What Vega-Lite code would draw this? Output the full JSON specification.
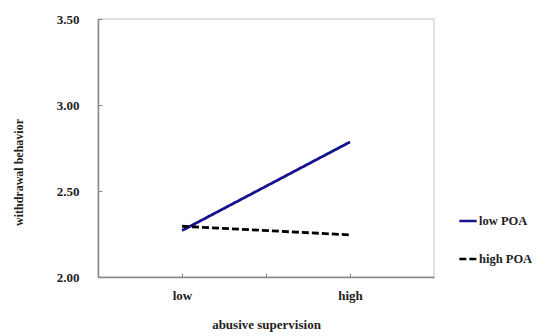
{
  "$schema": "https://vega.github.io/schema/vega-lite/v6.json",
  "width": 336,
  "height": 258,
  "autosize": {"type": "none"},
  "padding": {"left": 98, "top": 19, "right": 125, "bottom": 59},
  "background": "white",
  "config": {
    "view": {"stroke": "#d9d9d9", "strokeWidth": 1.5},
    "font": "Liberation Serif"
  },
  "data": {
    "values": [
      {"level": 1, "group": "low POA", "value": 2.27},
      {"level": 3, "group": "low POA", "value": 2.785},
      {"level": 1, "group": "high POA", "value": 2.295},
      {"level": 3, "group": "high POA", "value": 2.245}
    ]
  },
  "mark": {"type": "line", "strokeWidth": 2.8},
  "encoding": {
    "x": {
      "field": "level",
      "type": "quantitative",
      "scale": {"domain": [0, 4], "nice": false, "zero": false},
      "axis": {
        "title": "abusive supervision",
        "values": [1, 2, 3],
        "labelExpr": "datum.value == 1 ? 'low' : datum.value == 3 ? 'high' : ''",
        "grid": false,
        "domainColor": "#888888",
        "domainWidth": 1.5,
        "tickColor": "#888888",
        "tickSize": -4,
        "labelPadding": 16,
        "labelFont": "Liberation Serif",
        "labelFontSize": 13,
        "labelFontWeight": "bold",
        "labelColor": "#222222",
        "titleFont": "Liberation Serif",
        "titleFontSize": 13,
        "titleFontWeight": "bold",
        "titleColor": "#222222",
        "titlePadding": 16
      }
    },
    "y": {
      "field": "value",
      "type": "quantitative",
      "scale": {"domain": [2, 3.5], "nice": false, "zero": false},
      "axis": {
        "title": "withdrawal behavior",
        "values": [2, 2.5, 3, 3.5],
        "format": ".2f",
        "grid": false,
        "domainColor": "#888888",
        "domainWidth": 1.5,
        "tickColor": "#888888",
        "tickSize": -4,
        "labelPadding": 23,
        "labelFont": "Liberation Serif",
        "labelFontSize": 13,
        "labelFontWeight": "bold",
        "labelColor": "#222222",
        "titleFont": "Liberation Serif",
        "titleFontSize": 12,
        "titleFontWeight": "bold",
        "titleColor": "#222222",
        "titleAngle": -90,
        "titleX": -80,
        "titleY": 153,
        "titleAlign": "center",
        "titleBaseline": "middle"
      }
    },
    "color": {
      "field": "group",
      "type": "nominal",
      "scale": {"domain": ["low POA", "high POA"], "range": ["#13138f", "#000000"]},
      "legend": {
        "title": null,
        "orient": "none",
        "legendX": 360,
        "legendY": 192,
        "symbolType": "stroke",
        "symbolSize": 300,
        "symbolStrokeWidth": 2.5,
        "labelFont": "Liberation Serif",
        "labelFontSize": 12.5,
        "labelFontWeight": "bold",
        "labelColor": "#222222",
        "labelOffset": 1,
        "rowPadding": 21
      }
    },
    "strokeDash": {
      "field": "group",
      "type": "nominal",
      "scale": {"domain": ["low POA", "high POA"], "range": [[1, 0], [7, 3]]},
      "legend": {
        "title": null,
        "orient": "none",
        "legendX": 360,
        "legendY": 192,
        "symbolType": "stroke",
        "symbolSize": 300,
        "symbolStrokeWidth": 2.5,
        "labelFont": "Liberation Serif",
        "labelFontSize": 12.5,
        "labelFontWeight": "bold",
        "labelColor": "#222222",
        "labelOffset": 1,
        "rowPadding": 21
      }
    }
  }
}
